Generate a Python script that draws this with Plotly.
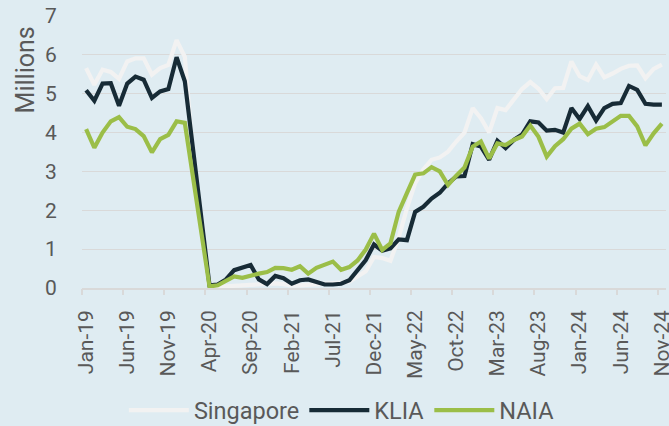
import pandas as pd
import plotly.graph_objects as go

months = [d.strftime("%b-%y") for d in pd.date_range("2019-01-01", "2024-11-01", freq="MS")]

singapore = [5.66, 5.23, 5.62, 5.56, 5.38, 5.83, 5.91, 5.91, 5.49, 5.66, 5.74, 6.38, 5.95, 3.4, 1.8,
             0.03, 0.03, 0.05, 0.06, 0.07, 0.08, 0.1, 0.11, 0.12, 0.1, 0.06, 0.07, 0.08, 0.1, 0.12,
             0.12, 0.14, 0.16, 0.28, 0.43, 0.8, 0.77, 0.7, 1.3, 2.05, 2.7, 3.05, 3.3, 3.36, 3.51,
             3.77, 4.0, 4.63, 4.37, 4.0, 4.63, 4.58, 4.84, 5.12, 5.3, 5.13, 4.86, 5.14, 5.15, 5.83,
             5.45, 5.35, 5.75, 5.42, 5.52, 5.64, 5.72, 5.73, 5.4, 5.64, 5.75]
klia = [5.09, 4.82, 5.26, 5.27, 4.69, 5.26, 5.44, 5.36, 4.89, 5.06, 5.12, 5.94, 5.32, 3.6, 1.9,
        0.07, 0.09, 0.22, 0.46, 0.52, 0.59, 0.22, 0.1, 0.31, 0.25, 0.11, 0.2, 0.22, 0.15, 0.09,
        0.09, 0.11, 0.2, 0.46, 0.72, 1.12, 0.96, 1.02, 1.25, 1.23, 1.96, 2.09, 2.3, 2.45, 2.69,
        2.87, 2.88, 3.7, 3.64, 3.3, 3.79, 3.6, 3.81, 3.95, 4.29, 4.26, 4.05, 4.07, 4.0, 4.63,
        4.35, 4.68, 4.31, 4.63, 4.74, 4.76, 5.2, 5.1, 4.74, 4.72, 4.72]
naia = [4.09, 3.61, 4.0, 4.29, 4.4, 4.15, 4.09, 3.91, 3.49, 3.83, 3.94, 4.29, 4.25, 2.9, 1.5,
        0.04, 0.07, 0.17, 0.3, 0.26, 0.32, 0.37, 0.41, 0.52, 0.51, 0.47, 0.56, 0.37, 0.52, 0.61,
        0.68, 0.47, 0.54, 0.71, 0.99, 1.4, 0.98, 1.15, 1.96, 2.44, 2.92, 2.95, 3.11, 3.0, 2.65,
        2.89, 3.1, 3.64, 3.77, 3.33, 3.72, 3.68, 3.81, 3.9, 4.18, 3.89, 3.38, 3.65, 3.83, 4.1,
        4.23, 3.96, 4.1, 4.14, 4.28, 4.43, 4.43, 4.16, 3.67, 3.98, 4.23]

series = [("Singapore", singapore, "#F2F2F2"), ("KLIA", klia, "#172B36"), ("NAIA", naia, "#9BBE48")]

x = list(range(len(months)))
label_idx = list(range(0, len(months), 5))
boundary_ticks = [i - 0.5 for i in label_idx]

fig = go.Figure()
for name, vals, color in series:
    fig.add_trace(go.Scatter(x=x, y=vals, name=name, mode="lines",
                             line=dict(color=color, width=4.2)))

# invisible trace to activate xaxis2 for boundary tick marks
fig.add_trace(go.Scatter(x=[x[0]], y=[0], xaxis="x2", mode="lines", showlegend=False,
                         hoverinfo="skip", line=dict(color="rgba(0,0,0,0)")))

grey = "#595959"
fig.update_layout(
    width=669, height=426,
    paper_bgcolor="#DFECF2", plot_bgcolor="#DFECF2",
    margin=dict(l=82, r=3, t=16, b=138, autoexpand=False),
    font=dict(family="Roboto", color=grey, size=21),
    xaxis=dict(range=[-0.5, len(months) - 0.5], tickvals=label_idx,
               ticktext=[months[i] for i in label_idx], tickangle=-90,
               ticks="outside", ticklen=12, tickcolor="rgba(0,0,0,0)", automargin=False,
               ticklabeloverflow="allow",
               showgrid=False, zeroline=False, showline=True, linecolor="#D9D9D9", linewidth=1.5,
               tickfont=dict(size=21, color=grey)),
    xaxis2=dict(overlaying="x", matches="x", side="bottom", tickvals=boundary_ticks,
                ticks="outside", ticklen=6, tickwidth=1.5, tickcolor="#D9D9D9", automargin=False,
                showticklabels=False, showgrid=False, zeroline=False, showline=False),
    yaxis=dict(range=[0, 7], dtick=1, showgrid=True, gridcolor="#D9D9D9", gridwidth=1.4,
               zeroline=False, ticks="outside", ticklen=20, tickcolor="rgba(0,0,0,0)",
               automargin=False, tickfont=dict(size=21, color=grey)),
    legend=dict(orientation="h", x=0.445, xanchor="center", y=-0.45, yanchor="middle",
                font=dict(size=23.5, color=grey), itemwidth=60, bgcolor="rgba(0,0,0,0)"),
    showlegend=True,
)
fig.add_annotation(text="Millions", xref="paper", yref="paper", x=0, y=0.8,
                   xanchor="center", yanchor="middle", xshift=-57, textangle=-90,
                   showarrow=False, font=dict(size=25, color=grey))

fig.write_html("out.html", config={"displayModeBar": False},
               post_script="document.body.style.margin='0';document.body.style.overflow='hidden';")
